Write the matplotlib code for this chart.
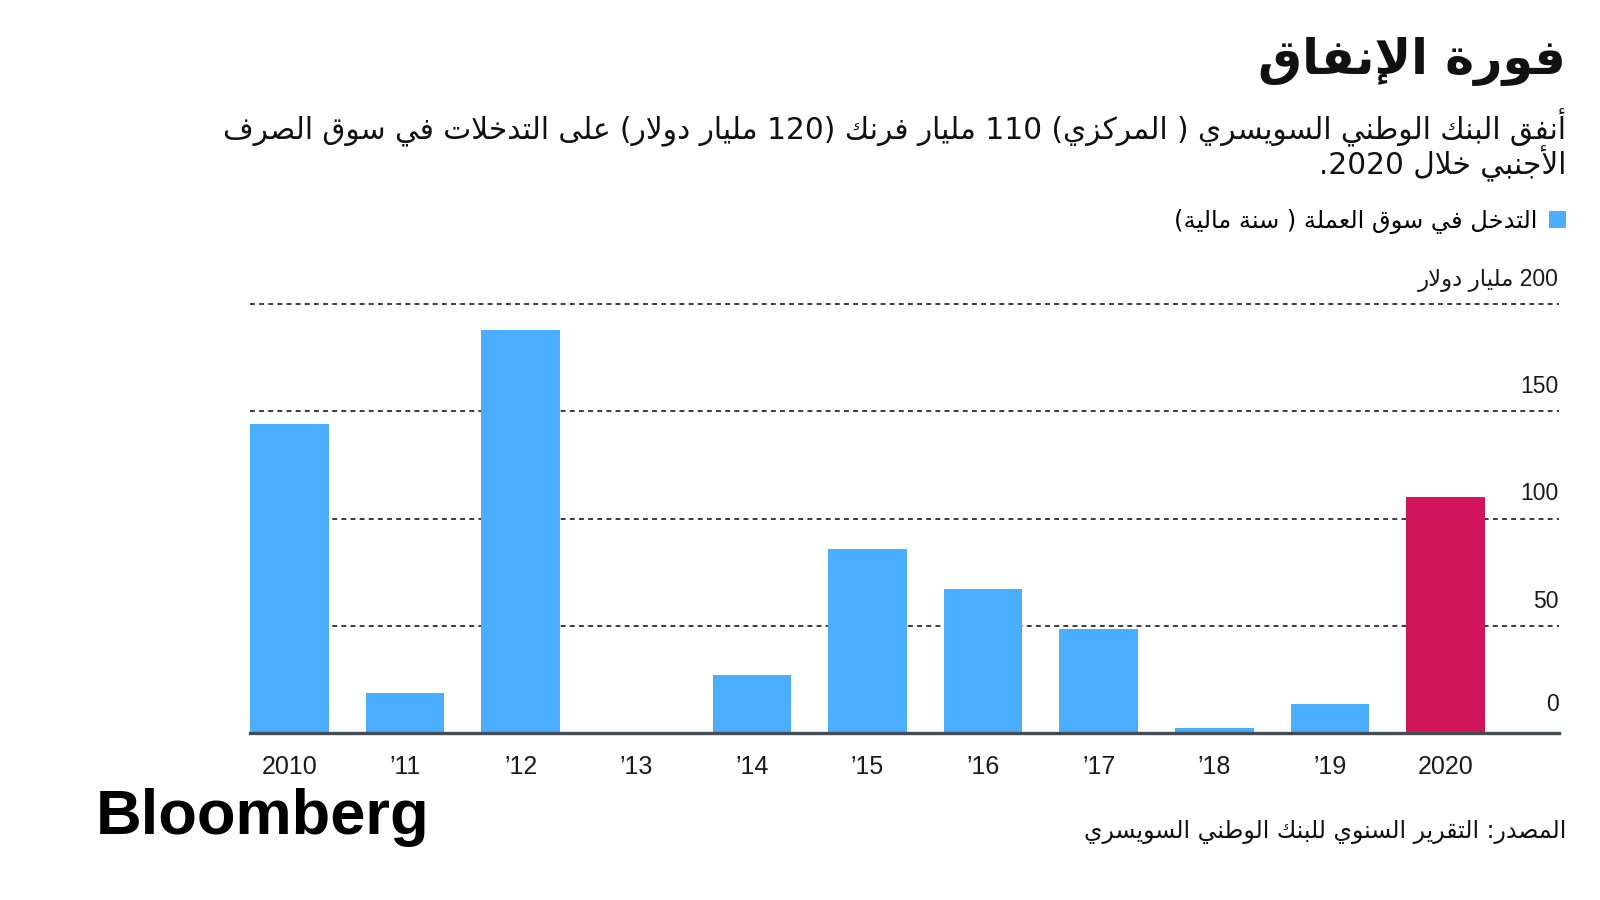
import re
import matplotlib
matplotlib.use('Agg')
import matplotlib.pyplot as plt
import matplotlib.transforms as mtransforms

years = ['2010', '\u201911', '\u201912', '\u201913', '\u201914', '\u201915',
         '\u201916', '\u201917', '\u201918', '\u201919', '2020']
values = [144, 18.5, 188, 0, 27, 86, 67, 48.5, 2.4, 13.3, 110]
bar_colors = ['#4badfd'] * 10 + ['#d1155b']
yticks = [0, 50, 100, 150, 200]
ytick_labels = ['0', '50', '100', '150', '200 مليار دولار']

title = 'فورة الإنفاق'
subtitle_1 = 'أنفق البنك الوطني السويسري ( المركزي) 110 مليار فرنك (120 مليار دولار) على التدخلات في سوق الصرف'
subtitle_2 = 'الأجنبي خلال 2020.'
legend_label = 'التدخل في سوق العملة ( سنة مالية)'
source = 'المصدر: التقرير السنوي للبنك الوطني السويسري'

# matplotlib does no arabic shaping, so map letters to presentation forms
FOUR = {0x626: 0xFE89, 0x628: 0xFE8F, 0x62A: 0xFE95, 0x62B: 0xFE99, 0x62C: 0xFE9D,
        0x62D: 0xFEA1, 0x62E: 0xFEA5, 0x633: 0xFEB1, 0x634: 0xFEB5, 0x635: 0xFEB9,
        0x636: 0xFEBD, 0x637: 0xFEC1, 0x638: 0xFEC5, 0x639: 0xFEC9, 0x63A: 0xFECD,
        0x641: 0xFED1, 0x642: 0xFED5, 0x643: 0xFED9, 0x644: 0xFEDD, 0x645: 0xFEE1,
        0x646: 0xFEE5, 0x647: 0xFEE9, 0x64A: 0xFEF1}
TWO = {0x622: 0xFE81, 0x623: 0xFE83, 0x624: 0xFE85, 0x625: 0xFE87, 0x627: 0xFE8D,
       0x629: 0xFE93, 0x62F: 0xFEA9, 0x630: 0xFEAB, 0x631: 0xFEAD, 0x632: 0xFEAF,
       0x648: 0xFEED, 0x649: 0xFEEF}
ONE = {0x621: 0xFE80}
LAM_ALEF = {0x622: 0xFEF5, 0x623: 0xFEF7, 0x625: 0xFEF9, 0x627: 0xFEFB}


def is_letter(ch):
    o = ord(ch)
    return o in FOUR or o in TWO or o in ONE


def shape(s):
    out = []
    prev_dual = False
    i = 0
    while i < len(s):
        o = ord(s[i])
        if not is_letter(s[i]):
            out.append(s[i])
            prev_dual = False
            i += 1
            continue
        if o == 0x644 and i + 1 < len(s) and ord(s[i + 1]) in LAM_ALEF:
            lig = LAM_ALEF[ord(s[i + 1])]
            out.append(chr(lig + 1 if prev_dual else lig))
            prev_dual = False
            i += 2
            continue
        nxt = i + 1 < len(s) and is_letter(s[i + 1])
        if o in FOUR:
            base = FOUR[o]
            if prev_dual and nxt:
                out.append(chr(base + 3))
            elif prev_dual:
                out.append(chr(base + 1))
            elif nxt:
                out.append(chr(base + 2))
            else:
                out.append(chr(base))
            prev_dual = True
        elif o in TWO:
            out.append(chr(TWO[o] + 1 if prev_dual else TWO[o]))
            prev_dual = False
        else:
            out.append(chr(ONE[o]))
            prev_dual = False
        i += 1
    return ''.join(out)


def rtl(s):
    tokens = re.findall(r'[0-9]+|.', shape(s))
    mirror = {'(': ')', ')': '('}
    return ''.join(mirror.get(t, t) for t in reversed(tokens))


AR = ['DejaVu Sans']
NUM = ['Liberation Sans', 'DejaVu Sans']

fig = plt.figure(figsize=(16, 9), dpi=100)
ax = fig.add_axes([250 / 1600, 1 - 733 / 900, 1309 / 1600, 429 / 900])

x = list(range(len(years)))
bars = ax.bar(x, values, width=0.68, color=bar_colors, zorder=3)

for v in yticks[1:]:
    ax.axhline(v, color='#3a3a3a', lw=1.4, ls=(0, (2.5, 2.2)), zorder=1, clip_on=False)
ax.axhline(0, color='#454b53', lw=2.4, zorder=4, clip_on=False)

ax.set_xlim(-0.34, 10.98)
ax.set_ylim(0, 200)
for s in ax.spines.values():
    s.set_visible(False)
ax.set_yticks([])
ax.set_xticks(x)
ax.set_xticklabels(years, family=NUM, fontsize=18, color='#1a1a1a')
ax.tick_params(axis='x', length=0, pad=16)

# labels sit above their gridline, the zero one a bit higher over the thick axis
for v, lab in zip(yticks, ytick_labels):
    off = 22 if v == 0 else 18
    tr = mtransforms.offset_copy(ax.get_yaxis_transform(), fig=fig, y=off, units='dots')
    ax.text(1.0, v, rtl(lab), transform=tr, ha='right', va='baseline',
            family=NUM, fontsize=16.5, color='#1a1a1a')

fig.text(1566 / 1600, 1 - 61 / 900, rtl(title), ha='right', va='center',
         family=AR, fontweight='bold', fontsize=35.5, color='#111111')
fig.text(1566 / 1600, 1 - 128 / 900, rtl(subtitle_1), ha='right', va='center',
         family=AR, fontsize=21.3, color='#111111')
fig.text(1566 / 1600, 1 - 164 / 900, rtl(subtitle_2), ha='right', va='center',
         family=AR, fontsize=21.3, color='#111111')

ax.legend(handles=[bars], labels=[rtl(legend_label)], loc='center right',
          bbox_to_anchor=(1566 / 1600, 1 - 221 / 900), bbox_transform=fig.transFigure,
          frameon=False, markerfirst=False, handlelength=0.7, handleheight=0.7,
          handletextpad=0.5, borderpad=0, borderaxespad=0,
          prop={'family': AR, 'size': 17.4})

fig.text(96 / 1600, 1 - 834 / 900, 'Bloomberg', ha='left', va='baseline',
         family=['Liberation Sans'], fontweight='bold', fontsize=45.5, color='black')
fig.text(1566 / 1600, 1 - 832 / 900, rtl(source), ha='right', va='center',
         family=AR, fontsize=17, color='#111111')

fig.savefig('out.png', dpi=100)
